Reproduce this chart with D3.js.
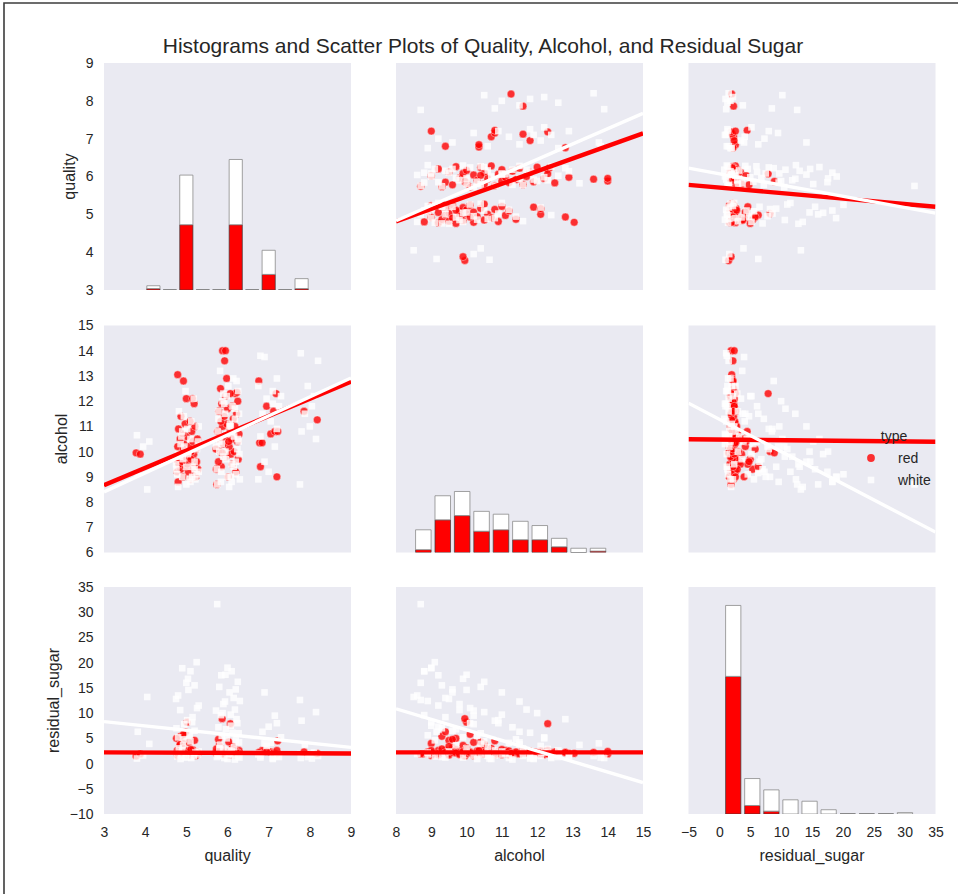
<!DOCTYPE html>
<html>
<head>
<meta charset="utf-8">
<script src="https://cdn.jsdelivr.net/npm/d3@7"></script>
<style>
  body { margin: 0; background: #fff; }
  svg { display: block; }
  text { font-family: "Liberation Sans", Arial, sans-serif; fill: #262626; }
</style>
</head>
<body>
<div id="chart"></div>
<script>
// ---- variables and axes ----
const variables = ["quality", "alcohol", "residual_sugar"];
const xDomains = [[3, 9], [8, 15], [-5, 35]];
const yDomains = [[3, 9], [6, 15], [-10, 35]];
const xTicks = [[3, 4, 5, 6, 7, 8, 9], [8, 9, 10, 11, 12, 13, 14, 15], [-5, 0, 5, 10, 15, 20, 25, 30, 35]];
const yTicks = [[3, 4, 5, 6, 7, 8, 9], [6, 7, 8, 9, 10, 11, 12, 13, 14, 15], [-10, -5, 0, 5, 10, 15, 20, 25, 30, 35]];
const wineTypes = ["red", "white"];

// ---- histogram bins (edges) and stacked counts ----
const qualityEdges = [4.0, 4.4, 4.8, 5.2, 5.6, 6.0, 6.4, 6.8, 7.2, 7.6, 8.0];
const alcoholEdges = [8.5, 9.05, 9.6, 10.15, 10.7, 11.25, 11.8, 12.35, 12.9, 13.45, 14.0];
const sugarEdges = [0.7, 3.79, 6.88, 9.97, 13.06, 16.15, 19.24, 22.33, 25.42, 28.51, 31.6];
const qualityRedCounts = [1, 0, 46, 0, 0, 46, 0, 11, 0, 1];
const qualityWhiteCounts = [2, 0, 35, 0, 0, 46, 0, 17, 0, 7];
const alcoholRedCounts = [2, 23, 26, 15, 16, 9, 9, 4, 0, 1];
const alcoholWhiteCounts = [14, 17, 17, 14, 11, 13, 10, 6, 3, 2];
const sugarRedCounts = [97, 6, 2, 0, 0, 0, 0, 0, 0, 0];
const sugarWhiteCounts = [50, 19, 15, 10, 9, 3, 0, 0, 0, 1];
const countDomain = [0, 160];

// ---- samples: [quality (jittered), alcohol, residual_sugar] ----
const redSamples = [
  [3.78, 9.95, 1.5], [3.88, 9.90, 1.9],
  [4.80, 8.8, 1.9], [5.10, 8.9, 2.3], [4.92, 9.0, 4.0], [5.22, 9.1, 2.0], [4.78, 9.2, 2.6],
  [5.05, 9.2, 1.8], [5.28, 9.3, 2.1], [4.86, 9.3, 5.4], [5.15, 9.4, 2.4], [4.98, 9.4, 6.3],
  [4.82, 9.5, 2.0], [5.20, 9.5, 4.6], [5.02, 9.5, 1.7], [4.90, 9.6, 3.2], [5.25, 9.6, 2.2],
  [4.76, 9.7, 5.0], [5.08, 9.8, 2.5], [4.95, 9.8, 1.9], [5.18, 9.9, 2.1], [4.84, 9.9, 3.6],
  [5.12, 10.0, 2.0], [5.02, 10.0, 8.2], [5.24, 10.1, 2.3], [4.79, 10.2, 1.6], [5.06, 10.2, 4.2],
  [4.94, 10.3, 2.0], [5.16, 10.4, 2.7], [4.85, 10.5, 3.8], [5.27, 10.5, 1.9], [5.00, 10.6, 2.2],
  [4.91, 10.7, 3.0], [5.13, 10.8, 1.8], [4.81, 10.9, 2.4], [5.21, 11.0, 2.1], [4.97, 11.1, 2.6],
  [5.09, 11.2, 1.7], [4.87, 11.4, 2.0], [5.19, 11.9, 2.3], [5.00, 12.1, 2.5], [5.15, 12.1, 1.9],
  [4.93, 12.8, 2.2], [4.79, 13.05, 2.0], [5.11, 9.7, 2.8], [4.93, 10.1, 5.8], [5.23, 9.0, 1.6],
  [5.74, 8.7, 1.9], [6.02, 9.0, 2.2], [6.20, 9.2, 2.0], [5.85, 9.4, 2.6], [6.12, 9.5, 3.4],
  [5.78, 9.6, 4.8], [6.26, 9.7, 2.1], [5.96, 9.8, 1.8], [6.08, 9.9, 2.4], [5.82, 10.0, 2.0],
  [6.16, 10.0, 3.1], [5.72, 10.1, 2.2], [6.04, 10.2, 1.7], [5.90, 10.3, 2.5], [6.24, 10.4, 2.0],
  [5.80, 10.5, 3.6], [6.10, 10.5, 2.3], [5.94, 10.6, 1.9], [6.28, 10.7, 2.6], [5.76, 10.8, 2.1],
  [6.06, 10.9, 2.0], [5.88, 11.0, 2.8], [6.18, 11.0, 1.8], [5.98, 11.1, 2.2], [5.84, 11.2, 2.5],
  [6.14, 11.3, 2.0], [5.92, 11.4, 2.3], [6.22, 11.5, 1.9], [5.79, 11.6, 2.7], [6.00, 11.7, 2.1],
  [6.11, 11.8, 2.4], [5.86, 11.9, 2.0], [6.25, 12.0, 2.2], [5.95, 12.2, 1.8], [6.19, 12.3, 2.6],
  [6.23, 12.35, 2.1], [5.83, 12.5, 2.3], [5.98, 12.9, 2.0], [5.93, 13.6, 2.2], [5.88, 14.0, 1.9],
  [5.95, 14.0, 2.4], [5.87, 9.95, 8.9], [6.07, 12.3, 7.9], [6.03, 10.4, 4.3], [5.73, 9.3, 2.9],
  [6.80, 9.4, 2.2], [6.78, 10.35, 2.0], [6.84, 10.35, 2.6], [7.05, 10.7, 2.3], [7.15, 10.8, 2.0],
  [7.22, 10.8, 4.5], [7.12, 11.6, 2.1], [6.95, 11.8, 2.4], [7.18, 12.3, 1.9], [6.76, 12.8, 2.2],
  [7.20, 9.0, 2.6],
  [8.18, 11.26, 2.0], [7.86, 11.6, 2.3]
];
const whiteSamples = [
  [4.05, 8.5, 13.2], [3.82, 9.15, 6.3], [4.10, 10.4, 3.9], [3.80, 10.65, 1.0], [3.95, 10.2, 1.6],
  [4.80, 8.6, 13.5], [5.10, 8.8, 18.3], [5.25, 9.1, 20.1], [4.90, 9.0, 18.9], [5.00, 8.7, 16.0],
  [5.20, 9.3, 15.5], [4.75, 9.5, 12.8], [5.30, 9.2, 11.5], [4.85, 9.8, 10.6], [5.15, 9.4, 9.2],
  [5.05, 10.0, 14.6], [4.95, 10.2, 7.8], [5.20, 9.6, 6.5], [4.80, 9.9, 5.2], [5.10, 10.5, 4.4],
  [4.90, 10.8, 2.6], [5.28, 10.4, 1.8], [4.78, 9.1, 1.4], [5.00, 9.4, 1.2], [5.22, 8.9, 2.2],
  [4.88, 10.6, 1.6], [5.12, 11.2, 1.1], [4.82, 11.6, 3.0], [5.18, 12.1, 1.5], [5.02, 10.9, 8.6],
  [4.92, 9.7, 3.6], [5.26, 10.1, 11.0], [4.76, 9.3, 7.0], [5.08, 8.9, 5.6], [4.98, 12.4, 1.3],
  [5.30, 11.0, 2.4], [4.86, 10.3, 0.9], [5.14, 9.0, 8.2], [5.04, 9.9, 16.8], [4.94, 11.4, 4.8],
  [5.75, 8.7, 31.6], [6.00, 9.0, 19.0], [5.85, 9.2, 17.5], [6.10, 8.8, 18.3], [6.20, 9.6, 14.7],
  [5.95, 10.0, 17.6], [6.25, 10.5, 16.2], [5.80, 10.4, 15.2], [6.05, 11.0, 14.1], [6.15, 9.4, 13.0],
  [5.90, 9.8, 11.8], [6.30, 8.9, 12.4], [5.72, 10.2, 10.5], [6.08, 11.0, 9.7], [6.18, 11.7, 10.7],
  [5.88, 12.0, 10.0], [6.22, 12.8, 8.8], [5.78, 11.3, 7.2], [6.12, 11.8, 6.1], [5.98, 12.2, 5.0],
  [6.28, 11.5, 4.2], [5.82, 13.2, 3.7], [6.02, 12.6, 2.6], [6.26, 12.4, 1.4], [5.92, 11.9, 1.1],
  [6.06, 11.1, 2.0], [5.76, 10.8, 1.6], [6.16, 10.6, 3.2], [5.86, 10.3, 5.5], [6.24, 10.1, 8.0],
  [5.96, 9.7, 6.8], [6.10, 9.5, 2.4], [5.74, 9.3, 1.3], [6.20, 9.1, 4.6], [5.84, 8.8, 9.6],
  [6.04, 8.6, 1.9], [6.29, 9.9, 1.2], [5.94, 11.5, 12.3], [6.14, 12.9, 1.8], [5.80, 10.0, 3.0],
  [6.00, 10.7, 0.9], [6.18, 11.3, 0.8], [5.90, 12.3, 2.9], [6.08, 9.0, 7.5], [6.27, 10.4, 6.0],
  [5.78, 11.6, 1.5],
  [6.80, 13.8, 1.2], [6.90, 13.75, 4.0], [7.20, 12.9, 1.4], [6.75, 12.6, 2.0], [7.10, 12.4, 1.1],
  [6.95, 12.1, 3.5], [7.25, 11.8, 1.3], [6.85, 11.5, 6.3], [7.05, 11.2, 4.1], [7.20, 10.9, 8.0],
  [6.80, 10.6, 1.5], [7.15, 10.2, 9.5], [6.90, 9.6, 14.1], [7.00, 9.2, 7.3], [6.75, 8.9, 1.8],
  [7.30, 12.2, 5.2], [7.10, 11.9, 0.9],
  [7.78, 13.9, 1.1], [8.20, 13.6, 1.5], [7.95, 12.6, 1.3], [8.10, 12.2, 2.2], [7.88, 11.5, 3.8],
  [8.05, 11.8, 1.0], [7.80, 10.8, 8.5], [8.15, 10.5, 10.2], [7.76, 8.7, 12.6], [8.00, 11.0, 1.8]
];

// ---- fitted regression lines: row variable at the left and right end of the x range ----
const fitQualityOnAlcohol = { red: [4.81, 7.14], white: [4.83, 7.67] };
const fitQualityOnSugar = { red: [5.78, 5.20], white: [6.22, 5.03] };
const fitAlcoholOnQuality = { red: [8.67, 12.78], white: [8.40, 12.92] };
const fitAlcoholOnSugar = { red: [10.49, 10.39], white: [11.92, 6.81] };
const fitSugarOnQuality = { red: [2.21, 2.00], white: [8.32, 3.20] };
const fitSugarOnAlcohol = { red: [2.21, 2.21], white: [10.85, -3.77] };

const histEdges = [qualityEdges, alcoholEdges, sugarEdges];
const histCounts = [
  { red: qualityRedCounts, white: qualityWhiteCounts },
  { red: alcoholRedCounts, white: alcoholWhiteCounts },
  { red: sugarRedCounts, white: sugarWhiteCounts }
];
const fits = {
  "0-1": fitQualityOnAlcohol, "0-2": fitQualityOnSugar,
  "1-0": fitAlcoholOnQuality, "1-2": fitAlcoholOnSugar,
  "2-0": fitSugarOnQuality, "2-1": fitSugarOnAlcohol
};
const samples = { red: redSamples, white: whiteSamples };

// ---- layout ----
const W = 958, H = 894;
const colX = [104, 396, 688.5];
const rowY = [63, 325.5, 587];
const pw = 247, ph = 227;
const bg = "#EAEAF2";
const redColor = "#FF0000";

const svg = d3.select("#chart").append("svg").attr("width", W).attr("height", H);
svg.append("rect").attr("width", W).attr("height", H).attr("fill", "#fff");

// window frame along the top and left edges
svg.append("path")
  .attr("d", `M4,${H}V3H${W}`)
  .attr("fill", "none").attr("stroke", "#3c3c3c").attr("stroke-width", 1.6);

svg.append("text")
  .attr("x", 483).attr("y", 53)
  .attr("text-anchor", "middle")
  .attr("font-size", 21)
  .text("Histograms and Scatter Plots of Quality, Alcohol, and Residual Sugar");

const defs = svg.append("defs");

for (let i = 0; i < 3; i++) {
  for (let j = 0; j < 3; j++) {
    const g = svg.append("g").attr("transform", `translate(${colX[j]},${rowY[i]})`);
    const x = d3.scaleLinear().domain(xDomains[j]).range([0, pw]);
    const y = d3.scaleLinear().domain(yDomains[i]).range([ph, 0]);

    g.append("rect").attr("width", pw).attr("height", ph).attr("fill", bg);

    const clipId = `clip-${i}-${j}`;
    defs.append("clipPath").attr("id", clipId)
      .append("rect").attr("width", pw).attr("height", ph);
    const plot = g.append("g").attr("clip-path", `url(#${clipId})`);

    if (i === j) {
      // stacked histogram on its own count scale
      const edges = histEdges[i];
      const counts = histCounts[i];
      const cy = d3.scaleLinear().domain(countDomain).range([ph, 0]);
      const bins = d3.range(edges.length - 1).map(k => {
        const w = edges[k + 1] - edges[k];
        return {
          x0: edges[k] + 0.1 * w, x1: edges[k] + 0.9 * w,
          red: counts.red[k], white: counts.white[k]
        };
      });
      const barPath = (x0, x1, c0, c1) =>
        `M${x(x0)},${cy(c0)}V${cy(c1)}H${x(x1)}V${cy(c0)}Z`;
      plot.selectAll("path.red-bar").data(bins).join("path")
        .attr("class", "red-bar")
        .attr("d", b => barPath(b.x0, b.x1, 0, b.red))
        .attr("fill", redColor)
        .attr("stroke", "#3a3a3a").attr("stroke-width", 0.7);
      plot.selectAll("path.white-bar").data(bins).join("path")
        .attr("class", "white-bar")
        .attr("d", b => barPath(b.x0, b.x1, b.red, b.red + b.white))
        .attr("fill", "#ffffff")
        .attr("stroke", "#8a8a8a").attr("stroke-width", 0.8);
    } else {
      // scatter: red circles, then white squares, then regression lines
      const red = samples.red, white = samples.white;
      plot.selectAll("circle.red-pt").data(red).join("circle")
        .attr("class", "red-pt")
        .attr("cx", d => x(d[j])).attr("cy", d => y(d[i]))
        .attr("r", 3.9)
        .attr("fill", redColor).attr("fill-opacity", 0.8)
        .attr("stroke", "#ffffff").attr("stroke-width", 0.5).attr("stroke-opacity", 0.8);
      const s = 6.6;
      plot.selectAll("rect.white-pt").data(white).join("rect")
        .attr("class", "white-pt")
        .attr("x", d => x(d[j]) - s / 2).attr("y", d => y(d[i]) - s / 2)
        .attr("width", s).attr("height", s)
        .attr("fill", "#ffffff").attr("fill-opacity", 0.8);

      const fit = fits[`${i}-${j}`];
      const line = d3.line().x(d => x(d[0])).y(d => y(d[1]));
      wineTypes.forEach(t => {
        const pts = [[xDomains[j][0], fit[t][0]], [xDomains[j][1], fit[t][1]]];
        plot.append("path")
          .attr("d", line(pts))
          .attr("fill", "none")
          .attr("stroke", t === "red" ? redColor : "#ffffff")
          .attr("stroke-width", t === "red" ? 4.4 : 3.4)
          .attr("stroke-linecap", "butt");
      });
    }

    // axes
    if (j === 0) {
      const ax = g.append("g")
        .call(d3.axisLeft(y).tickValues(yTicks[i]).tickSize(0).tickPadding(10.5).tickFormat(d3.format("d")));
      ax.select(".domain").remove();
      ax.attr("font-family", null).attr("font-size", null);
      ax.selectAll("text").attr("font-size", 14).attr("fill", "#262626");
      const tw = d3.max(ax.selectAll("text").nodes(), n => n.getComputedTextLength());
      g.append("text")
        .attr("transform", `translate(${-10.5 - tw - 11},${ph / 2}) rotate(-90)`)
        .attr("text-anchor", "middle")
        .attr("font-size", 16)
        .text(variables[i]);
    }
    if (i === 2) {
      const ax = g.append("g").attr("transform", `translate(0,${ph})`)
        .call(d3.axisBottom(x).tickValues(xTicks[j]).tickSize(0).tickPadding(13).tickFormat(d3.format("d")));
      ax.select(".domain").remove();
      ax.attr("font-family", null).attr("font-size", null);
      ax.selectAll("text").attr("font-size", 14).attr("fill", "#262626");
      g.append("text")
        .attr("x", pw / 2).attr("y", ph + 47)
        .attr("text-anchor", "middle")
        .attr("font-size", 16)
        .text(variables[j]);
    }
  }
}

// legend for the wine type hue
const legend = svg.append("g").attr("transform", "translate(871,436)");
legend.append("text").attr("x", 23).attr("y", 0).attr("dy", "0.35em")
  .attr("text-anchor", "middle").attr("font-size", 14).text("type");
wineTypes.forEach((t, k) => {
  const row = legend.append("g").attr("transform", `translate(0,${22 + k * 22})`);
  if (t === "red") {
    row.append("circle").attr("r", 3.9).attr("fill", redColor).attr("fill-opacity", 0.8);
  } else {
    row.append("rect").attr("x", -3.3).attr("y", -3.3).attr("width", 6.6).attr("height", 6.6)
      .attr("fill", "#ffffff").attr("fill-opacity", 0.8);
  }
  row.append("text").attr("x", 27).attr("dy", "0.35em").attr("font-size", 14).text(t);
});
</script>
</body>
</html>
